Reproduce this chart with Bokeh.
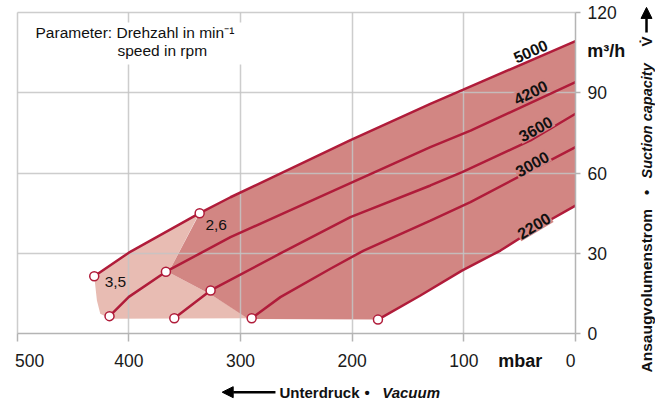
from bokeh.plotting import figure
from bokeh.models import (Range1d, FixedTicker, Label, Arrow, NormalHead, BoxAnnotation,
                          LinearAxis, Grid)
from bokeh.embed import file_html
from bokeh.resources import INLINE

# ---------------- data ----------------
x_ticks = [500, 400, 300, 200, 100, 0]
y_ticks = [0, 30, 60, 90, 120]
x_tick_labels = {500: "\u00a0\u00a0\u00a0500", 0: "0\u00a0\u00a0"}

speeds = ["5000", "4200", "3600", "3000", "2200"]

x5000 = [431, 400, 337, 309, 202, 130, 101, 0]
y5000 = [21.5, 30.3, 45.0, 51.0, 72.2, 85.9, 91.1, 109.3]

x4200 = [417.3, 400, 366.8, 309, 219.5, 130, 94, 0]
y4200 = [6.6, 13.8, 23.2, 36.1, 52.9, 69.7, 75.9, 94.0]

x3600 = [359.3, 326.8, 264.3, 201.6, 129.9, 101.5, 40.3, 0]
y3600 = [5.8, 16.2, 30.0, 43.6, 55.4, 60.4, 72.2, 82.2]

x3000 = [290, 264.3, 219.5, 189.7, 129.9, 94.1, 0]
y3000 = [5.8, 13.7, 24.3, 31.1, 42.3, 49.2, 69.7]

x2200 = [176.9, 138.9, 101.7, 67.2, 34.3, 0]
y2200 = [5.3, 14.3, 23.6, 31.1, 39.8, 47.9]

curves_x = [x5000, x4200, x3600, x3000, x2200]
curves_y = [y5000, y4200, y3600, y3000, y2200]

pts_x = [431, 336.6, 417.3, 366.8, 359.3, 326.8, 290, 176.9]
pts_y = [21.5, 45.0, 6.6, 23.2, 5.8, 16.2, 5.8, 5.3]

lim26_x = [336.6, 364.4, 326.6, 292.7]
lim26_y = [45.0, 23.0, 14.7, 5.8]
lim35_x = [292.7, 416.7, 425.6, 428.6, 431]
lim35_y = [5.6, 5.6, 7.5, 12.4, 21.5]
bottom_y = 5.5

i26 = 2
dark_x = x5000[i26:] + x2200[::-1] + [292.7] + lim26_x[::-1][1:]
dark_y = y5000[i26:] + y2200[::-1] + [bottom_y] + lim26_y[::-1][1:]
light_x = x5000[:i26 + 1] + lim26_x[1:] + lim35_x[1:-1]
light_y = y5000[:i26 + 1] + lim26_y[1:] + lim35_y[1:-1]

RED = "#b01c3a"
DARK = "#d28683"
LIGHT = "#e8bcb3"
GRID = "#c4c4c4"
AXC = "#b4b4b4"
FONT = "Liberation Sans"
TXT = "#111111"

# the frame spans the whole canvas; axes sit at fixed data locations
p = figure(width=655, height=403, x_range=Range1d(514.95, -71.65), y_range=Range1d(-26.03, 124.48),
           output_backend="svg", toolbar_location=None, x_axis_type=None, y_axis_type=None,
           min_border=0, min_border_left=0, min_border_right=0, min_border_top=0,
           min_border_bottom=0)
p.outline_line_color = None

p.patch(light_x, light_y, fill_color=LIGHT, line_color=None, level="image")
p.patch(dark_x, dark_y, fill_color=DARK, line_color=None, level="image")

# grids
xg = Grid(dimension=0, ticker=FixedTicker(ticks=x_ticks[:-1]), bounds=(0, 500))
yg = Grid(dimension=1, ticker=FixedTicker(ticks=y_ticks[1:]), bounds=(0, 120))
has_cb = "cross_bounds" in Grid.properties()
if has_cb:
    xg.cross_bounds = (0, 120)
    yg.cross_bounds = (0, 500)
for g in (xg, yg):
    g.grid_line_color = GRID
    g.grid_line_width = 1.5
    g.grid_line_alpha = 0.85
    p.add_layout(g)
if not has_cb:
    xg.visible = False
    yg.visible = False
    gx = x_ticks[:-1]
    p.segment(gx, [0] * len(gx), gx, [120] * len(gx), line_color=GRID, line_width=1.5,
              line_alpha=0.85, level="underlay")
    gy = y_ticks[1:]
    p.segment([500] * len(gy), gy, [0] * len(gy), gy, line_color=GRID, line_width=1.5,
              line_alpha=0.85, level="underlay")

for xs, ys in zip(curves_x, curves_y):
    p.line(xs, ys, line_color=RED, line_width=2.5)
p.scatter(pts_x, pts_y, size=9, fill_color="white", line_color=RED, line_width=1.5)

# axes
xa = LinearAxis(fixed_location=0, bounds=(0, 500), ticker=FixedTicker(ticks=x_ticks))
ya = LinearAxis(fixed_location=0, bounds=(0, 120), ticker=FixedTicker(ticks=y_ticks))
xa.major_label_overrides = x_tick_labels
for ax in (xa, ya):
    ax.axis_line_color = AXC
    ax.axis_line_width = 1.5
    ax.major_tick_line_color = AXC
    ax.major_tick_line_width = 1.5
    ax.major_tick_in = 0
    ax.minor_tick_line_color = None
    ax.major_label_text_font = FONT
    ax.major_label_text_font_size = "17.5px"
    ax.major_label_text_color = "#1a1a1a"
xa.major_tick_out = 8
xa.major_label_standoff = 9
ya.major_tick_out = 5
ya.major_label_standoff = 7
p.add_layout(xa, "below")
p.add_layout(ya, "right")

# curve labels
lab_pos = [(40.3, 105.6, 24), (40.3, 90.2, 26), (35.8, 76.6, 29), (38.8, 63.5, 29), (37.3, 40.4, 31)]
for name, (lx, ly, ang) in zip(speeds, lab_pos):
    bg = None if name == "5000" else DARK
    p.add_layout(Label(x=lx, y=ly, text=name, angle=ang, angle_units="deg",
                       text_align="center", text_baseline="middle",
                       text_font=FONT, text_font_style="bold", text_font_size="16px",
                       text_color=TXT, background_fill_color=bg, padding=1))

for t, lx, ly in [("2,6", 321.8, 40.8), ("3,5", 412, 19.3)]:
    p.add_layout(Label(x=lx, y=ly, text=t, text_align="center", text_baseline="middle",
                       text_font=FONT, text_font_size="15.5px", text_color=TXT))

# parameter box
p.add_layout(BoxAnnotation(left=488.1, right=297.3, bottom=100.6, top=116.3,
                           fill_color="white", fill_alpha=1, line_color=None))
p.add_layout(Label(x=483.6, y=112.5, text="Parameter: Drehzahl in min\u207b\u00b9",
                   text_align="left", text_baseline="middle",
                   text_font=FONT, text_font_size="15.5px", text_color=TXT))
p.add_layout(Label(x=410.2, y=105.8, text="speed in rpm",
                   text_align="left", text_baseline="middle",
                   text_font=FONT, text_font_size="15.5px", text_color=TXT))

# units
p.add_layout(Label(x=-10.5, y=105.8, text="m\u00b3/h", text_align="left", text_baseline="middle",
                   text_font=FONT, text_font_style="bold", text_font_size="18px", text_color=TXT))
p.add_layout(Label(x=69.2, y=-10, text="mbar", text_align="left", text_baseline="middle",
                   text_font=FONT, text_font_style="bold", text_font_size="18px", text_color=TXT))

# y title (rotated)
YT = -63.6
def ylab(text, y, style, size, align="left"):
    p.add_layout(Label(x=YT, y=y, text=text, angle=90, angle_units="deg",
                       text_align=align, text_baseline="middle",
                       text_font=FONT, text_font_style=style, text_font_size=size,
                       text_color=TXT))
ylab("Ansaugvolumenstrom", -14.45, "bold", "15.5px")
ylab("\u2022", 52.8, "bold", "15px", "center")
ylab("Suction capacity", 58.0, "bold italic", "14.5px")
ylab("V\u0307", 109.2, "bold", "15px", "center")
p.add_layout(Arrow(x_start=YT, y_start=112.5, x_end=YT, y_end=121.9, line_width=2.5,
                   line_color="black",
                   end=NormalHead(size=11, fill_color="black", line_color="black")))

# x title
XT = -21.8
def xlab(text, x, style, align="left"):
    p.add_layout(Label(x=x, y=XT, text=text, text_align=align, text_baseline="middle",
                       text_font=FONT, text_font_style=style, text_font_size="15px",
                       text_color=TXT))
xlab("Unterdruck", 265.1, "bold")
xlab("\u2022", 186.6, "bold", "center")
xlab("Vacuum", 173.1, "bold italic")
p.add_layout(Arrow(x_start=268.7, y_start=XT, x_end=316.4, y_end=XT, line_width=2.5,
                   line_color="black",
                   end=NormalHead(size=11, fill_color="black", line_color="black")))

open("out.html", "w").write(file_html(p, INLINE))
